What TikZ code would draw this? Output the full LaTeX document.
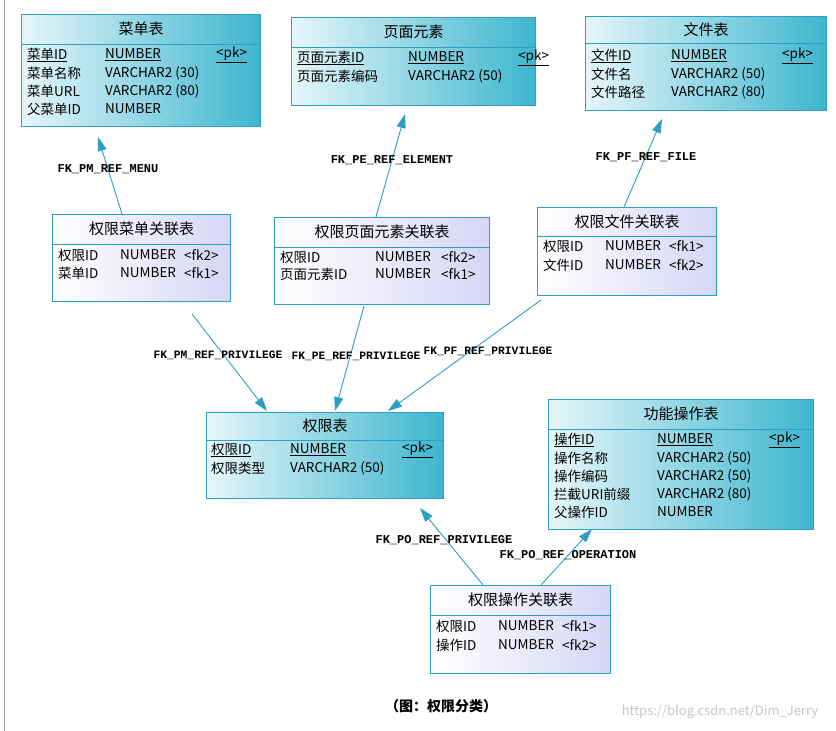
\documentclass[tikz,border=0pt]{standalone}
\usepackage{fontspec}
\setmainfont{Noto Sans CJK SC}
\newfontfamily\monof{Liberation Mono}
\usetikzlibrary{arrows.meta}
\definecolor{edge}{HTML}{2E9EC4}
\definecolor{cyl}{HTML}{E6F6FA}
\definecolor{cyr}{HTML}{3DB6CE}
\definecolor{pul}{HTML}{FFFFFF}
\definecolor{pur}{HTML}{D6D6F6}
\tikzset{
 cy/.style={draw=edge,line width=1pt,left color=cyl,right color=cyr,anchor=north west,inner sep=0},
 pu/.style={draw=edge,line width=1pt,left color=pul,right color=pur,anchor=north west,inner sep=0},
 hd/.style={font=\fontsize{15}{15}\selectfont},
 fd/.style={anchor=west,inner sep=0,font=\fontsize{13.5}{13.5}\selectfont},
 lb/.style={inner sep=0,font=\monof\bfseries\fontsize{12}{12}\selectfont},
 lbs/.style={inner sep=0,font=\monof\bfseries\fontsize{11.3}{11.3}\selectfont},
 fk/.style={draw=edge,line width=0.9pt,-{Triangle[length=14pt,width=9pt]}}
}
\newcommand{\tb}[8]{% name style x y w h headerh title
 \node[#2,minimum width=#5pt,minimum height=#6pt] (#1) at (#3,#4) {};
 \draw[edge,line width=1pt] ([yshift=-#7pt]#1.north west) -- ([yshift=-#7pt]#1.north east);
 \node[hd] (#1t) at ([yshift=-#7pt/2]#1.north) {#8};
}
\begin{document}
\begin{tikzpicture}[x=1pt,y=-1pt]
\useasboundingbox (0,0) rectangle (836,731);
\fill[white] (0,0) rectangle (836,731);
\draw[gray!70,line width=1pt] (4,0) -- (4,731);
% tables
\tb{menu}{cy}{21}{14}{239}{112}{30}{菜单表}
\node[fd] (m1) at (27,55) {\underline{菜单ID}};
\node[fd] (m2) at (27,73) {菜单名称};
\node[fd] (m3) at (27,91) {菜单URL};
\node[fd] (m4) at (27,109) {父菜单ID};
\node[fd] (m5) at (105,55) {\underline{NUMBER}};
\node[fd] (m6) at (105,73) {VARCHAR2 (30)};
\node[fd] (m7) at (105,91) {VARCHAR2 (80)};
\node[fd] (m8) at (105,109) {NUMBER};
\node[fd] (m9) at (216,55) {\underline{<pk>}};

\tb{elem}{cy}{291}{17}{244}{88}{30}{页面元素}
\node[fd] (e1) at (297,58) {\underline{页面元素ID}};
\node[fd] (e2) at (297,76) {页面元素编码};
\node[fd] (e3) at (408,58) {\underline{NUMBER}};
\node[fd] (e4) at (408,76) {VARCHAR2 (50)};
\node[fd] (e5) at (518,58) {\underline{<pk>}};

\tb{file}{cy}{585}{16}{241}{94}{27}{文件表}
\node[fd] (f1) at (591,56) {\underline{文件ID}};
\node[fd] (f2) at (591,74) {文件名};
\node[fd] (f3) at (591,92) {文件路径};
\node[fd] (f4) at (671,56) {\underline{NUMBER}};
\node[fd] (f5) at (671,74) {VARCHAR2 (50)};
\node[fd] (f6) at (671,92) {VARCHAR2 (80)};
\node[fd] (f7) at (782,56) {\underline{<pk>}};

\tb{pm}{pu}{52}{214}{178}{87}{30}{权限菜单关联表}
\node[fd] (pm1) at (58,255) {权限ID};
\node[fd] (pm2) at (58,273) {菜单ID};
\node[fd] (pm3) at (120,255) {NUMBER};
\node[fd] (pm4) at (120,273) {NUMBER};
\node[fd] (pm5) at (184,255) {<fk2>};
\node[fd] (pm6) at (184,273) {<fk1>};

\tb{pe}{pu}{274}{217}{215}{87}{30}{权限页面元素关联表}
\node[fd] (pe1) at (280,257) {权限ID};
\node[fd] (pe2) at (280,274) {页面元素ID};
\node[fd] (pe3) at (375,257) {NUMBER};
\node[fd] (pe4) at (375,274) {NUMBER};
\node[fd] (pe5) at (441,257) {<fk2>};
\node[fd] (pe6) at (441,274) {<fk1>};

\tb{pf}{pu}{537}{207}{179}{88}{29}{权限文件关联表}
\node[fd] (pf1) at (543,246) {权限ID};
\node[fd] (pf2) at (543,265) {文件ID};
\node[fd] (pf3) at (605,246) {NUMBER};
\node[fd] (pf4) at (605,265) {NUMBER};
\node[fd] (pf5) at (669,246) {<fk1>};
\node[fd] (pf6) at (669,265) {<fk2>};

\tb{priv}{cy}{206}{412}{237}{86}{28}{权限表}
\node[fd] (p1) at (211,450) {\underline{权限ID}};
\node[fd] (p2) at (211,468) {权限类型};
\node[fd] (p3) at (290,450) {\underline{NUMBER}};
\node[fd] (p4) at (290,468) {VARCHAR2 (50)};
\node[fd] (p5) at (402,450) {\underline{<pk>}};

\tb{op}{cy}{548}{399}{265}{130}{30}{功能操作表}
\node[fd] (o1) at (554,440) {\underline{操作ID}};
\node[fd] (o2) at (554,458) {操作名称};
\node[fd] (o3) at (554,476) {操作编码};
\node[fd] (o4) at (554,494) {拦截URI前缀};
\node[fd] (o5) at (554,512) {父操作ID};
\node[fd] (o6) at (657,440) {\underline{NUMBER}};
\node[fd] (o7) at (657,458) {VARCHAR2 (50)};
\node[fd] (o8) at (657,476) {VARCHAR2 (50)};
\node[fd] (o9) at (657,494) {VARCHAR2 (80)};
\node[fd] (o10) at (657,512) {NUMBER};
\node[fd] (o11) at (769,440) {\underline{<pk>}};

\tb{po}{pu}{430}{585}{180}{88}{30}{权限操作关联表}
\node[fd] (po1) at (436,626) {权限ID};
\node[fd] (po2) at (436,645) {操作ID};
\node[fd] (po3) at (498,626) {NUMBER};
\node[fd] (po4) at (498,645) {NUMBER};
\node[fd] (po5) at (562,626) {<fk1>};
\node[fd] (po6) at (562,645) {<fk2>};

% connector end points
\coordinate (a1) at (122,214); \coordinate (b1) at (98,137);
\coordinate (a2) at (376,217); \coordinate (b2) at (405,114);
\coordinate (a3) at (624,207); \coordinate (b3) at (662,119);
\coordinate (a4) at (192,314); \coordinate (b4) at (267,411);
\coordinate (a5) at (364,306); \coordinate (b5) at (335,411);
\coordinate (a6) at (541,300); \coordinate (b6) at (388,411);
\coordinate (a7) at (483,585); \coordinate (b7) at (420,508);
\coordinate (a8) at (541,585); \coordinate (b8) at (592,529);
\draw[fk] (a1) -- (b1);
\draw[fk] (a2) -- (b2);
\draw[fk] (a3) -- (b3);
\draw[fk] (a4) -- (b4);
\draw[fk] (a5) -- (b5);
\draw[fk] (a6) -- (b6);
\draw[fk] (a7) -- (b7);
\draw[fk] (a8) -- (b8);
% labels
\node[lb] (l1) at (108,169) {FK\_PM\_REF\_MENU};
\node[lb] (l2) at (392,160) {FK\_PE\_REF\_ELEMENT};
\node[lb] (l3) at (646,157) {FK\_PF\_REF\_FILE};
\node[lbs] (l4) at (218,355) {FK\_PM\_REF\_PRIVILEGE};
\node[lbs] (l5) at (356,356) {FK\_PE\_REF\_PRIVILEGE};
\node[lbs] (l6) at (488,351) {FK\_PF\_REF\_PRIVILEGE};
\node[lb] (l7) at (444,540) {FK\_PO\_REF\_PRIVILEGE};
\node[lb] (l8) at (568,555) {FK\_PO\_REF\_OPERATION};
\node[font=\bfseries\fontsize{14}{14}\selectfont] (cap) at (441,706) {（图：权限分类）};
\node[font=\fontsize{13}{13}\selectfont,text=gray!45] (wm) at (720,712) {https://blog.csdn.net/Dim\_Jerry};
\end{tikzpicture}
\end{document}
